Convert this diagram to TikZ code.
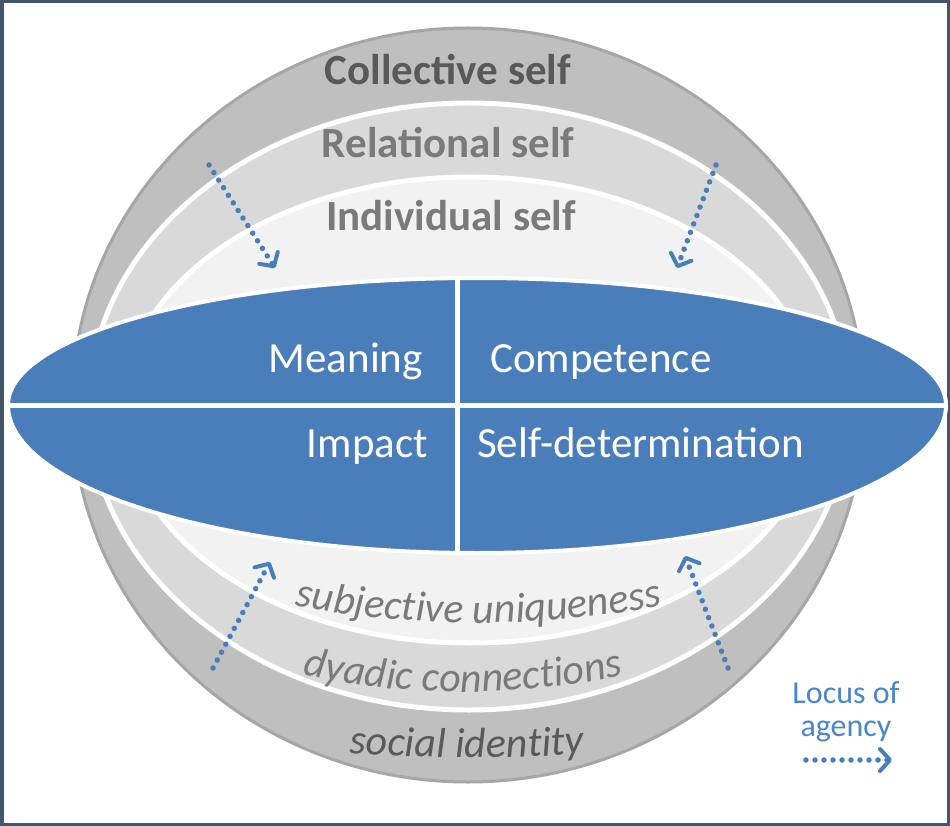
\documentclass[tikz,border=0pt]{standalone}
\usepackage{fontspec}
\setmainfont{Carlito}
\usetikzlibrary{arrows.meta,decorations.text}
\definecolor{framec}{HTML}{44546A}
\definecolor{gone}{HTML}{BFBFBF}
\definecolor{goneedge}{HTML}{A6A6A6}
\definecolor{gtwo}{HTML}{D9D9D9}
\definecolor{gthree}{HTML}{F2F2F2}
\definecolor{bluefill}{HTML}{4A7EBB}
\definecolor{legblue}{HTML}{4A86C8}
\definecolor{tdark}{HTML}{595959}
\definecolor{tmid}{HTML}{7A7A7A}
\begin{document}
\begin{tikzpicture}[x=1pt,y=-1pt,
  topbold/.style={font=\fontsize{43}{43}\selectfont\bfseries, anchor=base, inner sep=0pt},
  inlbl/.style={font=\fontsize{43}{43}\selectfont, text=white, inner sep=0pt},
  leglbl/.style={font=\fontsize{32}{32}\selectfont, text=legblue, anchor=base, inner sep=0pt},
  agencyarrow/.style={draw=bluefill, line width=5.5pt, line cap=round, dash pattern=on 0pt off 9pt,
     -{Straight Barb[length=10pt,width=22pt,line width=4pt,round]}},
]
\useasboundingbox (0,0) rectangle (950,826);
\fill[white] (0,0) rectangle (950,826);
\draw[framec, line width=3.5pt] (1.75,1.75) rectangle (948.25,824.25);

% nested self layers
\draw[fill=gone, draw=goneedge, line width=3pt] (468,405) ellipse [x radius=396, y radius=377];
\draw[fill=gtwo, draw=white, line width=5pt] (469,406.5) ellipse [x radius=380, y radius=303.5];
\draw[fill=gthree, draw=white, line width=5pt] (470,410) ellipse [x radius=347, y radius=233];

% blue lens
\coordinate (ltip) at (8,405);
\coordinate (rtip) at (946,405);
\draw[fill=bluefill, draw=white, line width=4pt]
  (ltip) arc[start angle=180, end angle=360, x radius=469, y radius=127]
  arc[start angle=0, end angle=180, x radius=469, y radius=148] -- cycle;
\begin{scope}
  \clip (ltip) arc[start angle=180, end angle=360, x radius=469, y radius=127]
  arc[start angle=0, end angle=180, x radius=469, y radius=148] -- cycle;
  \coordinate (vtop) at (457,260);
  \coordinate (vbot) at (457,570);
  \draw[white, line width=5pt] (vtop) -- (vbot);
  \draw[white, line width=5pt] (ltip) -- (rtip);
\end{scope}

% labels
\node[topbold, text=tdark] (coll) at (448,85) {Collective self};
\node[topbold, text=tmid] (rel) at (448,158) {Relational self};
\node[topbold, text=tmid] (ind) at (451,231) {Individual self};

\node[inlbl, anchor=base east] (mean) at (423,372) {Meaning};
\node[inlbl, anchor=base west] (comp) at (490,372) {Competence};
\node[inlbl, anchor=base east] (imp) at (428,457) {Impact};
\node[inlbl, anchor=base west] (selfdet) at (477,457) {Self-determination};

% curved italic labels
\path[decorate, decoration={text along path, text align=center,
  text={|\fontsize{42}{42}\selectfont\itshape\color{tmid}|subjective uniqueness}}]
  (478.5,-352) ++(106:975) arc[start angle=106, end angle=74, radius=975];
\path[decorate, decoration={text along path, text align=center,
  text={|\fontsize{42}{42}\selectfont\itshape\color{tmid}|dyadic connections}}]
  (463,-69) ++(112:761) arc[start angle=112, end angle=68, radius=761];
\path[decorate, decoration={text along path, text align=center,
  text={|\fontsize{42}{42}\selectfont\itshape\color{tdark}|social identity}}]
  (467,-1142.5) ++(97:1900) arc[start angle=97, end angle=83, radius=1900];

% locus of agency arrows
\coordinate (tls) at (209,165);
\coordinate (tle) at (275,268);
\coordinate (trs) at (716,165);
\coordinate (tre) at (677,268);
\coordinate (bls) at (213,668);
\coordinate (ble) at (270,562);
\coordinate (brs) at (728,668);
\coordinate (bre) at (685,556);
\draw[agencyarrow] (tls) -- (tle);
\draw[agencyarrow] (trs) -- (tre);
\draw[agencyarrow] (bls) -- (ble);
\draw[agencyarrow] (brs) -- (bre);

% legend
\node[leglbl] (locus) at (846,703) {Locus of};
\node[leglbl] (agency) at (846,736) {agency};
\coordinate (lgs) at (806,760);
\coordinate (lge) at (892,760);
\draw[agencyarrow] (lgs) -- (lge);
\end{tikzpicture}
\end{document}
